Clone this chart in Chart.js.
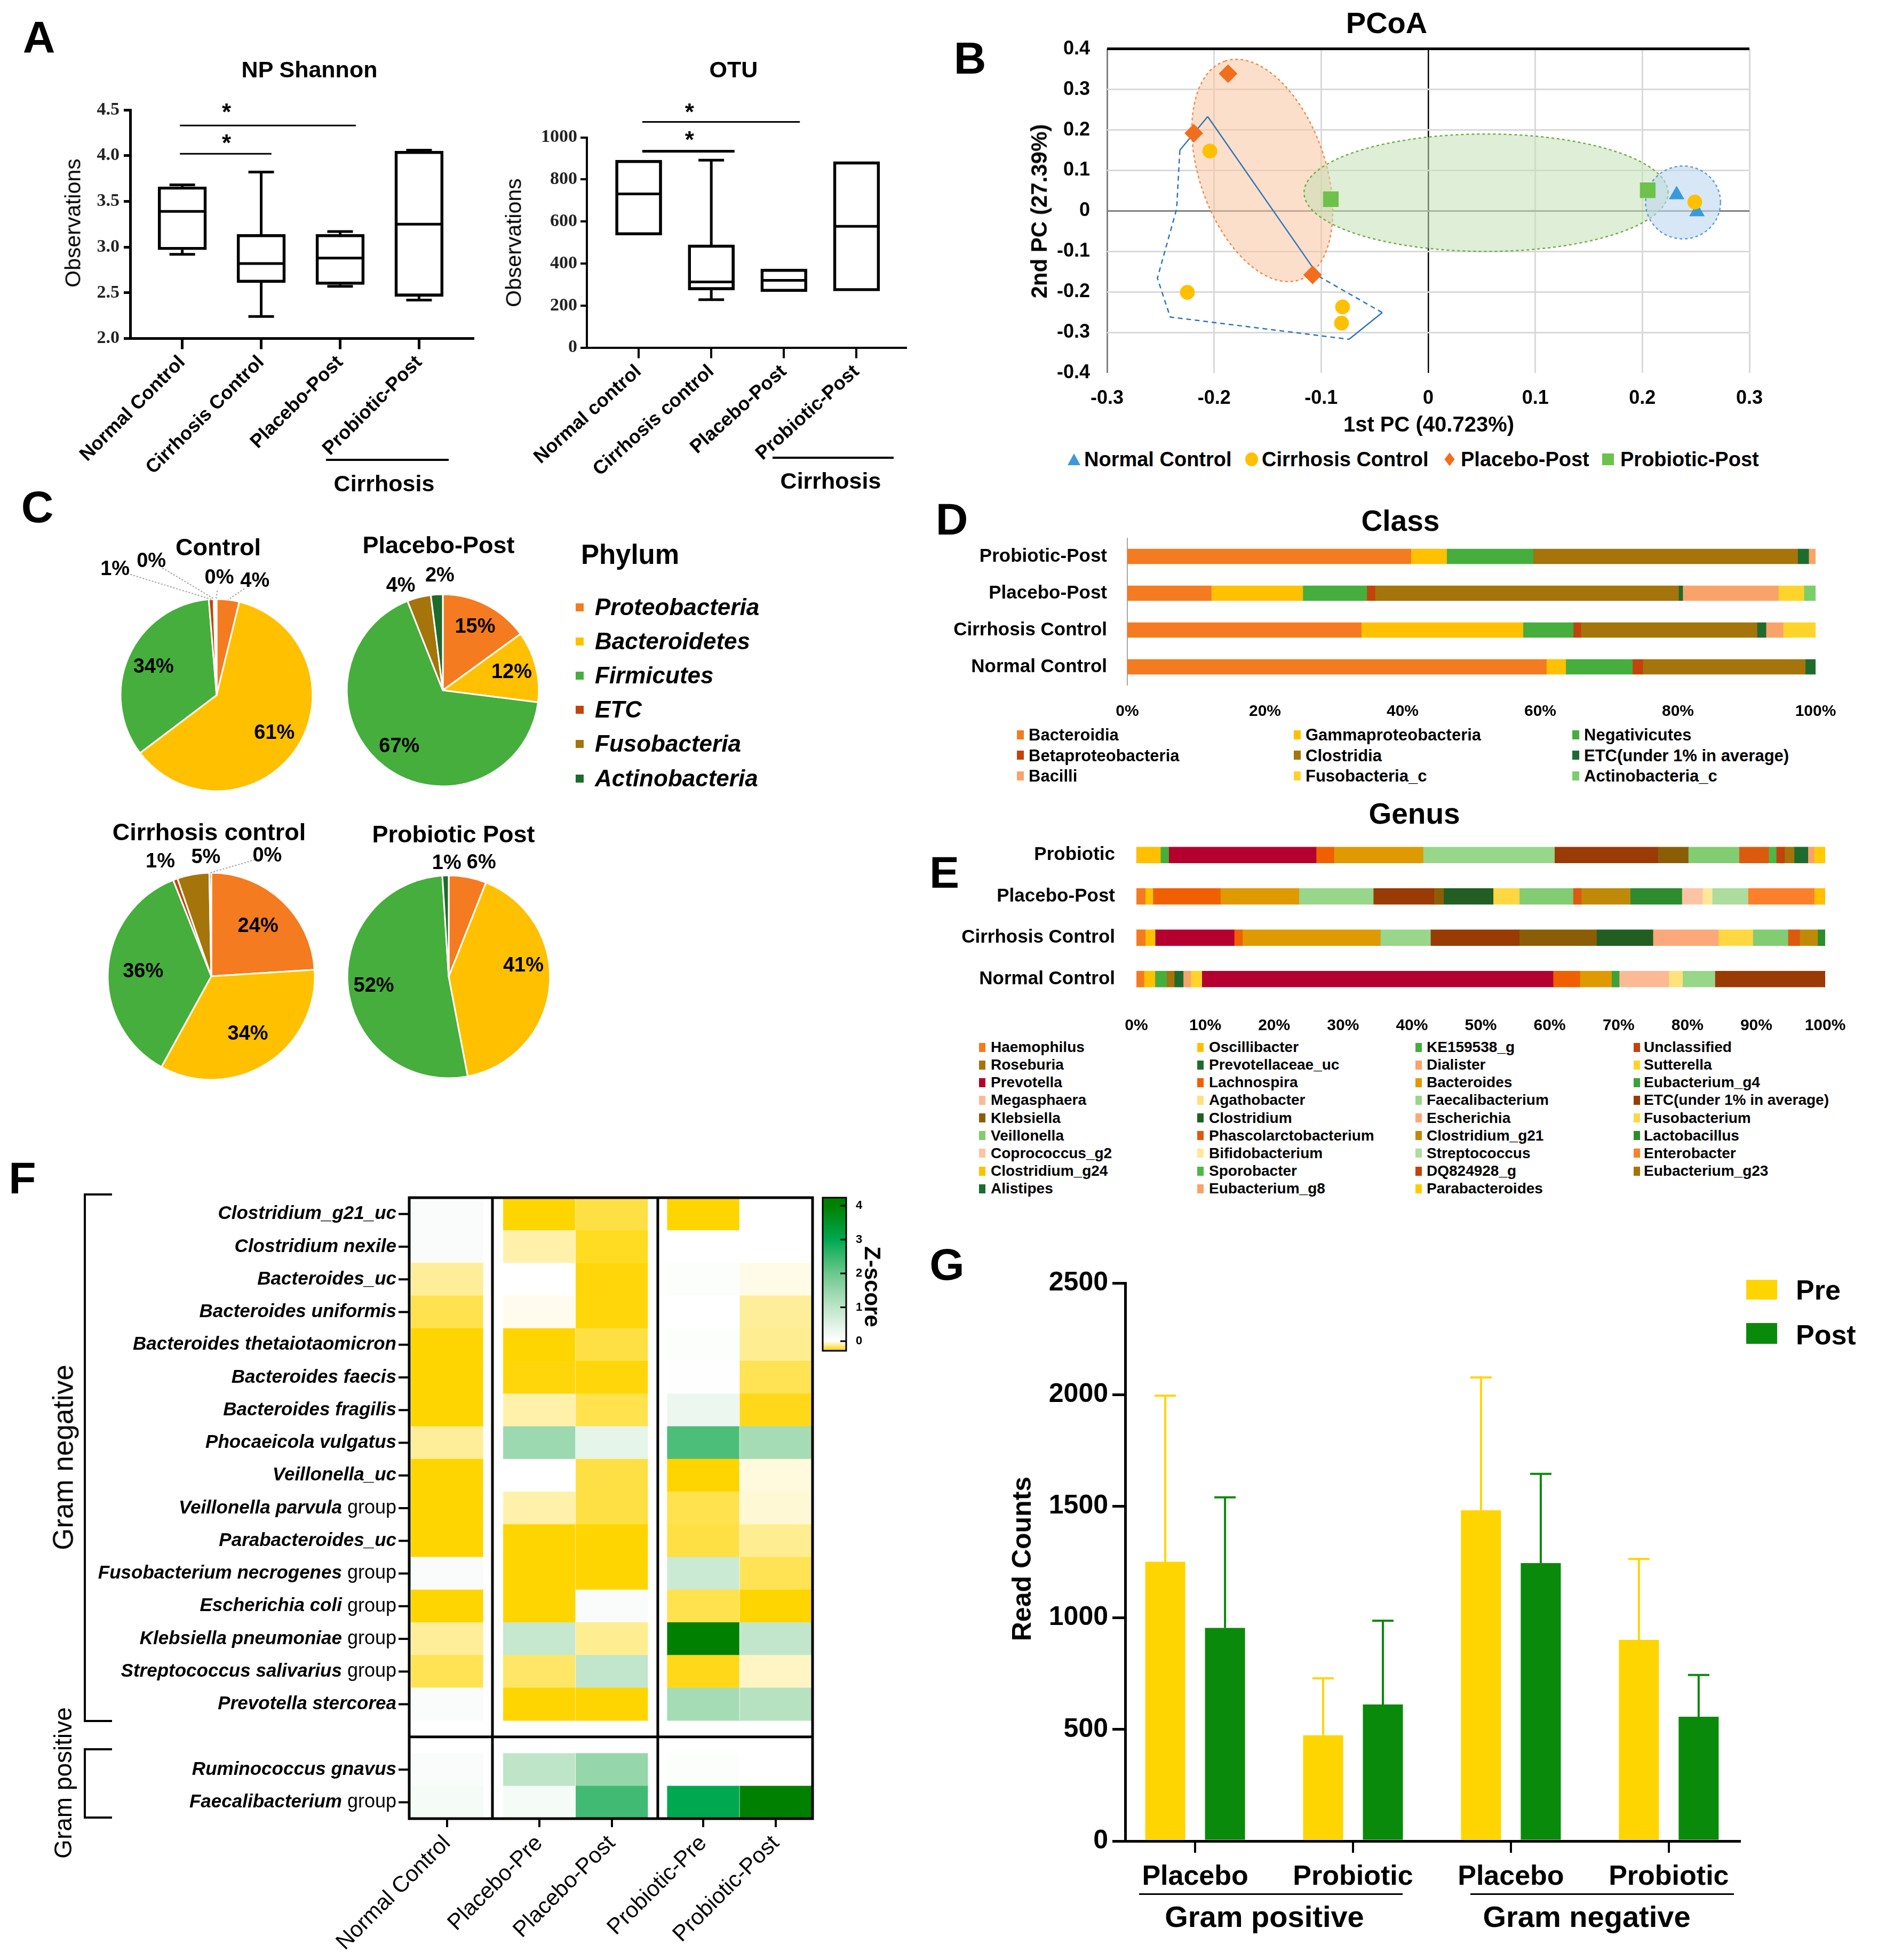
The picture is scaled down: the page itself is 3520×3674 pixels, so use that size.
<!DOCTYPE html>
<html><head><meta charset="utf-8">
<script src="https://cdn.jsdelivr.net/npm/chart.js@4.4.1/dist/chart.umd.min.js"></script>
<style>
html,body{margin:0;padding:0;background:#fff}
body{position:relative;width:3520px;height:3674px;overflow:hidden;font-family:'Liberation Sans',Arial,sans-serif;color:#000}
canvas{position:absolute}
.t{position:absolute;white-space:nowrap;line-height:1}
.sq{position:absolute}
</style></head><body>
<script>
// ================= DATA =================
// A: NP Shannon (box plot)
const shannonCats = ['Normal Control','Cirrhosis Control','Placebo-Post','Probiotic-Post'];
const shannonMin = [2.92, 2.24, 2.57, 2.42];
const shannonQ1  = [2.97, 2.61, 2.59, 2.46];
const shannonMed = [3.39, 2.82, 2.88, 3.25];
const shannonQ3  = [3.66, 3.14, 3.14, 4.05];
const shannonMax = [3.68, 3.82, 3.17, 4.06];
const shannonTicks = [2.0, 2.5, 3.0, 3.5, 4.0, 4.5];
const shannonSig = [{from:-0.03, to:2.2, y:4.33, starX:0.56, starY:4.52, w:3},
                    {from:-0.03, to:1.13, y:4.02, starX:0.56, starY:4.18, w:3}];
// A: OTU (box plot)
const otuCats = ['Normal control','Cirrhosis control','Placebo-Post','Probiotic-Post'];
const otuMin = [535, 228, 266, 269];
const otuQ1  = [535, 274, 266, 269];
const otuMed = [731, 312, 320, 577];
const otuQ3  = [892, 489, 374, 885];
const otuMax = [892, 892, 374, 885];
const otuTicks = [0, 200, 400, 600, 800, 1000];
const otuSig = [{from:0.05, to:2.22, y:1074, starX:0.7, starY:1139, w:3},
                {from:0.05, to:1.32, y:934, starX:0.7, starY:1008, w:5}];

// B: PCoA
const pcoaGroups = ['Normal Control','Cirrhosis Control','Placebo-Post','Probiotic-Post'];
const pcoaNormalX = [0.232, 0.251],  pcoaNormalY = [0.040, -0.002];
const pcoaCirrX = [-0.204, -0.225, -0.080, -0.081, 0.249], pcoaCirrY = [0.148, -0.201, -0.237, -0.277, 0.022];
const pcoaPlacX = [-0.187, -0.219, -0.108], pcoaPlacY = [0.339, 0.192, -0.158];
const pcoaProbX = [-0.091, 0.205], pcoaProbY = [0.029, 0.051];
const hullX = [-0.206, -0.232, -0.235, -0.253, -0.241, -0.074, -0.043, -0.102, -0.206];
const hullY = [0.233, 0.150, 0.005, -0.166, -0.262, -0.317, -0.251, -0.162, 0.233];
const hullSolid = [0, 5, 7];
// ellipses: centre (cx,cy) and two semi-axis vectors (ax,ay),(bx,by) in data units
const pcoaEllipses = [
  {cx:-0.155, cy:0.10, ax:-0.035, ay:0.27, bx:0.0557, by:0.050, fill:'rgba(248,196,160,0.55)', stroke:'#F4894A'},
  {cx:0.054, cy:0.045, ax:0.170, ay:0, bx:0, by:0.145, fill:'rgba(197,224,180,0.55)', stroke:'#70AD47'},
  {cx:0.238, cy:0.021, ax:0.035, ay:0, bx:0, by:0.09, fill:'rgba(189,215,238,0.6)', stroke:'#5B9BD5'}
];

// C: Phylum pies
const phylumNames = ['Proteobacteria','Bacteroidetes','Firmicutes','ETC','Fusobacteria','Actinobacteria'];
const phylumColors = ['#F47B20','#FFC000','#46AE3C','#C3430C','#A5740B','#1E6B2E'];
const pieControl   = [3.8, 60.9, 34.0, 0.8, 0.3, 0.2];
const piePlacebo   = [15, 12, 67, 0, 4, 2];
const pieCirrhosis = [24, 34, 36, 0.7, 5, 0.3];
const pieProbiotic = [6, 41, 52, 0, 0, 1];

// D: Class
const classGroups = ['Probiotic-Post','Placebo-Post','Cirrhosis Control','Normal Control'];
const classNames = ['Bacteroidia','Gammaproteobacteria','Negativicutes','Betaproteobacteria','Clostridia','ETC(under 1% in average)','Bacilli','Fusobacteria_c','Actinobacteria_c'];
const classColors = ['#F47B20','#FFC000','#46AE3C','#C3430C','#A5740B','#1E6B2E','#F9A36A','#FFD42A','#7ACF6A'];
const classProbiotic = [41.2, 5.2, 12.6, 0, 38.4, 1.6, 1.0, 0, 0];
const classPlacebo   = [12.2, 13.3, 9.3, 1.2, 44.1, 0.6, 13.9, 3.7, 1.7];
const classCirrhosis = [34.0, 23.5, 7.3, 1.1, 25.6, 1.3, 2.5, 4.7, 0];
const classNormal    = [60.9, 2.8, 9.7, 1.5, 23.6, 1.5, 0, 0, 0];

// E: Genus
const genusGroups = ['Probiotic','Placebo-Post','Cirrhosis Control','Normal Control'];
const genusNames = ['Haemophilus','Oscillibacter','KE159538_g','Unclassified','Roseburia','Prevotellaceae_uc','Dialister','Sutterella',
  'Prevotella','Lachnospira','Bacteroides','Eubacterium_g4','Megasphaera','Agathobacter','Faecalibacterium','ETC(under 1% in average)',
  'Klebsiella','Clostridium','Escherichia','Fusobacterium','Veillonella','Phascolarctobacterium','Clostridium_g21','Lactobacillus',
  'Coprococcus_g2','Bifidobacterium','Streptococcus','Enterobacter','Clostridium_g24','Sporobacter','DQ824928_g','Eubacterium_g23',
  'Alistipes','Eubacterium_g8','Parabacteroides'];
const genusColors = ['#F47B20','#FFC000','#46AE3C','#C3430C','#A5740B','#1E6B2E','#F9A36A','#FFD42A',
  '#B5002F','#F06000','#DE9A00','#3CA13A','#FBBA94','#FFE27A','#98D68A','#9A3A05',
  '#8B5E06','#225E22','#FBA87A','#FFD740','#82CC72','#DC5A0E','#C08A08','#2E8B2E',
  '#FCC4A4','#FFE899','#ADDC9F','#FF7F2A','#FFC000','#4CB848','#C3430C','#A5740B',
  '#1E6B2E','#F9A36A','#FFCC00'];
const genusProbiotic = [0,3.5,1.2,0,0,0,0,0, 21.4,2.6,12.9,0,0,0,19.1,15.0, 4.4,0,0,0,7.4,4.3,0,0, 0,0,0,0,0,1.1,1.2,1.4, 2.0,0.9,1.6];
const genusPlacebo   = [1.3,1.1,0,0,0,0,0,0, 0,9.8,11.4,0,0,0,10.8,8.8, 1.4,7.2,0,3.8,7.8,1.2,7.1,7.5, 3.0,1.4,5.2,9.6,1.6,0,0,0, 0,0,0];
const genusCirrhosis = [1.3,1.4,0,0,0,0,0,0, 11.5,1.2,20.0,0,0,0,7.3,12.9, 11.2,8.2,9.5,5.0,5.1,1.7,2.6,1.1, 0,0,0,0,0,0,0,0, 0,0,0];
const genusNormal    = [1.1,1.6,1.7,0,1.1,1.3,1.1,1.6, 51.0,3.9,4.6,1.1,7.2,2.0,4.7,16.0, 0,0,0,0,0,0,0,0, 0,0,0,0,0,0,0,0, 0,0,0];

// F: heatmap (z-scores)
const heatRows = ['Clostridium_g21_uc','Clostridium nexile','Bacteroides_uc','Bacteroides uniformis','Bacteroides thetaiotaomicron',
  'Bacteroides faecis','Bacteroides fragilis','Phocaeicola vulgatus','Veillonella_uc','Veillonella parvula group','Parabacteroides_uc',
  'Fusobacterium necrogenes group','Escherichia coli group','Klebsiella pneumoniae group','Streptococcus salivarius group',
  'Prevotella stercorea','Ruminococcus gnavus','Faecalibacterium group'];
const heatGramNegCount = 16;
const heatCols = ['Normal Control','Placebo-Pre','Placebo-Post','Probiotic-Pre','Probiotic-Post'];
const heatNormal       = [0.1,0.1,-0.12,-0.21,-0.3,-0.3,-0.3,-0.12,-0.3,-0.3,-0.3,0.1,-0.3,-0.12,-0.2,0.1, 0.1,0.15];
const heatPlaceboPre   = [-0.3,-0.1,0,-0.02,-0.3,-0.29,-0.1,1.4,0,-0.1,-0.3,-0.3,-0.3,0.9,-0.18,-0.3, 1.0,0.15];
const heatPlaceboPost  = [-0.22,-0.26,-0.29,-0.29,-0.22,-0.29,-0.21,0.4,-0.22,-0.22,-0.3,-0.3,0.1,-0.13,0.95,-0.3, 1.5,2.4];
const heatProbioticPre = [-0.3,0,0.05,0,0.05,0.02,0.3,2.3,-0.3,-0.21,-0.22,0.8,-0.21,4.0,-0.27,1.3, 0.05,3.0];
const heatProbioticPost= [0,0,-0.03,-0.12,-0.13,-0.2,-0.27,1.3,-0.04,-0.05,-0.13,-0.2,-0.3,0.95,-0.07,1.1, 0,4.0];
const heatColX = [0, 1.27, 2.27, 3.53, 4.53];
const heatSeparators = [0.625, 2.904];
const zTicks = [0,1,2,3,4];

// G: read counts
const gGroups = ['Placebo','Probiotic','Placebo','Probiotic'];
const gPre = [1251, 474, 1482, 901];
const gPreSD = [744, 255, 595, 363];
const gPost = [955, 612, 1245, 557];
const gPostSD = [585, 375, 400, 187];
const gColors = ['#FFD500','#0A8A0A'];

// ================= HELPERS =================
Chart.defaults.font.family = "'Liberation Sans', Arial, sans-serif";
Chart.defaults.color = '#000';
Chart.defaults.animation = false;
Chart.defaults.responsive = false;
Chart.defaults.devicePixelRatio = 1;
Chart.defaults.plugins.legend.display = false;
Chart.defaults.plugins.tooltip.enabled = false;
Chart.defaults.events = [];

function mk(x,y,w,h){const c=document.createElement('canvas');c.width=w;c.height=h;
  Object.assign(c.style,{left:x+'px',top:y+'px',width:w+'px',height:h+'px'});document.body.appendChild(c);return c;}
function T(x,y,s,font,rot,align){const d=document.createElement('div');d.className='t';d.textContent=s;d.style.font=font;d.style.lineHeight='1';
  d.style.left=x+'px';d.style.top=y+'px';const tr=align==='left'?'translate(0,-50%)':'translate(-50%,-50%)';
  d.style.transform=tr+(rot?` rotate(${rot}deg)`:'');document.body.appendChild(d);return d;}
function R(x,y,w,h,color,extra){const d=document.createElement('div');d.className='sq';
  Object.assign(d.style,{left:x+'px',top:y+'px',width:w+'px',height:h+'px',background:color});if(extra)Object.assign(d.style,extra);
  document.body.appendChild(d);return d;}
const fixY = w => s => { s.width = w; s.paddingTop = 0; s.paddingBottom = 0; };
const fixX = h => s => { s.height = h; s.paddingLeft = 0; s.paddingRight = 0; };
const F = (w,sz,fam) => `${w} ${sz}px ${fam||"'Liberation Sans', Arial, sans-serif"}`;
function line(ctx,x1,y1,x2,y2){ctx.beginPath();ctx.moveTo(x1,y1);ctx.lineTo(x2,y2);ctx.stroke();}

// ================= PANEL A =================
function boxPlugin(st, sig, lw, cap){
  return {id:'boxplot', afterDatasetsDraw(chart){
    const ctx=chart.ctx, x=chart.scales.x, y=chart.scales.y, meta=chart.getDatasetMeta(0);
    ctx.save(); ctx.strokeStyle='#000'; ctx.lineWidth=lw; ctx.lineCap='butt';
    st.med.forEach((m,i)=>{
      const el=meta.data[i], cx=el.x, hw=el.width/2-lw/2;
      const pm=y.getPixelForValue(m); line(ctx,cx-hw,pm,cx+hw,pm);
      const top=y.getPixelForValue(st.q3[i]), bot=y.getPixelForValue(st.q1[i]);
      if(st.max[i]>st.q3[i]){const p=y.getPixelForValue(st.max[i]); line(ctx,cx,top,cx,p); line(ctx,cx-cap/2,p,cx+cap/2,p);}
      if(st.min[i]<st.q1[i]){const p=y.getPixelForValue(st.min[i]); line(ctx,cx,bot,cx,p); line(ctx,cx-cap/2,p,cx+cap/2,p);}
    });
    sig.forEach(s=>{ctx.lineWidth=s.w; const p=y.getPixelForValue(s.y);
      line(ctx,x.getPixelForValue(s.from),p,x.getPixelForValue(s.to),p);
      ctx.fillStyle='#000'; ctx.font=F('bold',44); ctx.textAlign='center'; ctx.textBaseline='middle';
      ctx.fillText('*', x.getPixelForValue(s.starX), y.getPixelForValue(s.starY)+10);});
    ctx.restore();
  }};
}
function boxChart(canvas, cats, st, ticks, sig, o){
  new Chart(canvas,{type:'bar',
    data:{datasets:[{data:st.q1.map((q,i)=>({x:i,y:[q,st.q3[i]]})),backgroundColor:'rgba(0,0,0,0)',borderColor:'#000',
      borderWidth:5,borderSkipped:false,barThickness:o.bw}]},
    options:{layout:{padding:{left:0,top:o.top,right:o.right,bottom:0}},
      scales:{
        x:{type:'linear',min:o.xmin,max:o.xmax,offset:false,afterBuildTicks:s=>{s.ticks=cats.map((_,i)=>({value:i}));},afterFit:fixX(o.xh),
          ticks:{autoSkip:false,minRotation:o.rot,maxRotation:o.rot,padding:4,font:{size:36,weight:'bold'},callback:(v,i)=>cats[i]},
          grid:{display:true,drawOnChartArea:false,drawTicks:true,tickLength:20,color:'#000',lineWidth:o.axw,offset:false},
          border:{display:true,color:'#000',width:o.axw}},
        y:{min:ticks[0],max:ticks[ticks.length-1],afterBuildTicks:s=>{s.ticks=ticks.map(v=>({value:v}));},afterFit:fixY(o.yw),
          ticks:{padding:o.tp,font:{family:"'Liberation Serif', 'Times New Roman', serif",size:34,weight:'bold'},color:'#222',callback:o.fmt},
          grid:{drawOnChartArea:false,tickLength:12,color:'#000',lineWidth:o.axw},
          border:{color:'#000',width:o.axw}}
      }},
    plugins:[boxPlugin(st,sig,5,48)]});
}
boxChart(mk(0,150,960,760), shannonCats,
  {min:shannonMin,q1:shannonQ1,med:shannonMed,q3:shannonQ3,max:shannonMax}, shannonTicks, shannonSig,
  {bw:91,top:56,right:74,xmin:-0.66,xmax:3.68,xh:275.5,yw:244,rot:45,axw:5,tp:8,fmt:v=>v.toFixed(1)});
boxChart(mk(960,150,790,760), otuCats,
  {min:otuMin,q1:otuQ1,med:otuMed,q3:otuQ3,max:otuMax}, otuTicks, otuSig,
  {bw:87,top:107.6,right:52,xmin:-0.713,xmax:3.68,xh:258.5,yw:140,rot:42,axw:4,tp:6,fmt:v=>String(v)});
T(73,70,'A',F('bold',84));
T(580,130,'NP Shannon',F('bold',43));
T(137,418,'Observations',F('normal',41),-90);
R(611,860,230,4,'#000'); T(720,906,'Cirrhosis',F('bold',43));
T(1375,130,'OTU',F('bold',43));
T(963,455,'Observations',F('normal',41),-90);
R(1448,856,227,4,'#000'); T(1557,901,'Cirrhosis',F('bold',43));

// ================= PANEL B =================
const xy=(X,Y)=>X.map((v,i)=>({x:v,y:Y[i]}));
const ellipsePlugin={id:'ell',beforeDatasetsDraw(chart){
  const ctx=chart.ctx, x=chart.scales.x, y=chart.scales.y;
  pcoaEllipses.forEach(e=>{
    const cx=x.getPixelForValue(e.cx), cy=y.getPixelForValue(e.cy);
    const ax=x.getPixelForValue(e.cx+e.ax)-cx, ay=y.getPixelForValue(e.cy+e.ay)-cy;
    const bx=x.getPixelForValue(e.cx+e.bx)-cx, by=y.getPixelForValue(e.cy+e.by)-cy;
    ctx.save(); ctx.beginPath();
    for(let k=0;k<=180;k++){const t=k/180*2*Math.PI; const px=cx+ax*Math.cos(t)+bx*Math.sin(t), py=cy+ay*Math.cos(t)+by*Math.sin(t);
      if(k===0)ctx.moveTo(px,py);else ctx.lineTo(px,py);}
    ctx.closePath(); ctx.fillStyle=e.fill; ctx.fill();
    ctx.setLineDash([5,5]); ctx.lineWidth=2.5; ctx.strokeStyle=e.stroke; ctx.stroke(); ctx.restore();
  });
}};
const isV=(a,b)=>Math.abs(a-b)<1e-6;
new Chart(mk(1960,40,1400,740),{type:'scatter',
  data:{datasets:[
    {label:pcoaGroups[1],data:xy(pcoaCirrX,pcoaCirrY),pointStyle:'circle',pointRadius:13.5,backgroundColor:'#FFC000',borderColor:'#FFC000'},
    {label:pcoaGroups[2],data:xy(pcoaPlacX,pcoaPlacY),pointStyle:'rectRot',pointRadius:17,backgroundColor:'#F26E1D',borderColor:'#F26E1D'},
    {label:pcoaGroups[3],data:xy(pcoaProbX,pcoaProbY),pointStyle:'rect',pointRadius:20,backgroundColor:'#6CC24A',borderColor:'#6CC24A'},
    {label:pcoaGroups[0],data:xy(pcoaNormalX,pcoaNormalY),pointStyle:'triangle',pointRadius:16,backgroundColor:'#3A9AD9',borderColor:'#3A9AD9'},
    {type:'line',label:'hull',data:xy(hullX,hullY),showLine:true,pointRadius:0,borderColor:'#2E75B6',borderWidth:2.5,fill:false,tension:0,
      segment:{borderDash:c=>hullSolid.includes(c.p0DataIndex)?undefined:[9,7]}}
  ]},
  options:{layout:{padding:{left:0,top:51.8,right:81,bottom:0}},
    scales:{
      x:{type:'linear',min:-0.3,max:0.3,afterFit:fixX(81),
        ticks:{stepSize:0.1,padding:26,font:{size:36,weight:'bold'},callback:v=>isV(v,0)?'0':v.toFixed(1)},
        grid:{drawTicks:false,color:c=>isV(c.tick.value,0)?'#000':(isV(c.tick.value,-0.3)?'#808080':'#D9D9D9'),lineWidth:c=>isV(c.tick.value,0)?2.5:3},
        border:{display:false}},
      y:{min:-0.4,max:0.4,afterFit:fixY(115),
        ticks:{stepSize:0.1,padding:32,font:{size:36,weight:'bold'},callback:v=>isV(v,0)?'0':v.toFixed(1)},
        grid:{drawTicks:false,color:c=>isV(c.tick.value,0.4)?'#000':isV(c.tick.value,0)?'#808080':isV(c.tick.value,-0.4)?'rgba(0,0,0,0)':'#D9D9D9',
          lineWidth:c=>isV(c.tick.value,0.4)?5:3},
        border:{display:false}}
    }},
  plugins:[ellipsePlugin]});
T(1818,109,'B',F('bold',84));
T(2599,43,'PCoA',F('bold',56));
T(1948,396,'2nd PC (27.39%)',F('bold',42),-90);
T(2678,795,'1st PC (40.723%)',F('bold',40));
R(2001,850,0,0,'transparent',{borderLeft:'12px solid transparent',borderRight:'12px solid transparent',borderBottom:'22px solid #3A9AD9'});
T(2032,861,pcoaGroups[0],F('bold',38),0,'left');
R(2334,848,24,26,'#FFC000',{borderRadius:'50%'});
T(2365,861,pcoaGroups[1],F('bold',38),0,'left');
R(2708,852,18,18,'#F26E1D',{transform:'scaleX(0.75) rotate(45deg)'});
T(2738,861,pcoaGroups[2],F('bold',38),0,'left');
R(3003,850,22,22,'#6CC24A');
T(3037,861,pcoaGroups[3],F('bold',38),0,'left');

// ================= PANEL C =================
function piePlugin(place, inner){
  return {id:'pielabels', afterDatasetsDraw(chart){
    const ctx=chart.ctx, meta=chart.getDatasetMeta(0), vals=chart.data.datasets[0].data;
    ctx.save(); ctx.font=F('bold',38); ctx.fillStyle='#000'; ctx.textAlign='center'; ctx.textBaseline='middle';
    meta.data.forEach((arc,i)=>{
      const v=vals[i]; if(!(v>0)) return;
      const p=arc.getProps(['x','y','startAngle','endAngle','outerRadius'],true);
      const mid=(p.startAngle+p.endAngle)/2; let ang=mid, rf=inner; const q=place[i];
      if(q){ang=-Math.PI/2+q[0]*Math.PI/180; rf=q[1];}
      const lx=p.x+Math.cos(ang)*p.outerRadius*rf, ly=p.y+Math.sin(ang)*p.outerRadius*rf;
      if(q&&q[2]){const tx=p.x+Math.cos(mid)*p.outerRadius, ty=p.y+Math.sin(mid)*p.outerRadius;
        const dx=tx-lx, dy=ty-ly, d=Math.hypot(dx,dy);
        ctx.save(); ctx.strokeStyle='#A0A0A0'; ctx.lineWidth=2; ctx.setLineDash([3,3]);
        line(ctx,lx+dx/d*24,ly+dy/d*24,tx,ty); ctx.restore();}
      ctx.fillText(Math.round(v)+'%',lx,ly);
    });
    ctx.restore();
  }};
}
function pie(cx,cy,r,vals,place,inner){
  const size=Math.round(2*r+280);
  new Chart(mk(cx-size/2,cy-size/2,size,size),{type:'pie',
    data:{labels:phylumNames,datasets:[{data:vals,backgroundColor:phylumColors,borderColor:'#fff',borderWidth:3,radius:r}]},
    options:{layout:{padding:0}},plugins:[piePlugin(place,inner)]});
}
pie(406,1303,180,pieControl,[[18.6,1.25,1],null,null,[-39,1.68,1],[-26,1.55,1],[1.3,1.22,1]],0.72);
pie(830,1294,180,piePlacebo,[null,null,null,null,[-22,1.17],[-1.5,1.19]],0.74);
pie(396,1830,194,pieCirrhosis,[null,null,null,[-24,1.21],[-2.6,1.15],[25,1.28,1]],0.66);
pie(841,1831,190,pieProbiotic,[[16,1.17],[81.5,0.745],null,null,null,[-1,1.12]],0.745);
T(70,950,'C',F('bold',84));
T(409,1025,'Control',F('bold',45));
T(822,1021,'Placebo-Post',F('bold',45));
T(392,1559,'Cirrhosis control',F('bold',45));
T(850,1563,'Probiotic Post',F('bold',45));
T(1181,1039,'Phylum',F('bold',51));
[1138,1202,1266,1330,1394,1459].forEach((yc,i)=>{R(1079,yc-7,15,15,phylumColors[i]); T(1115,yc,phylumNames[i],F('italic bold',44),0,'left');});

// ================= PANEL D / E (stacked bars) =================
function stackChart(canvas, groups, names, colors, rows, o){
  new Chart(canvas,{type:'bar',
    data:{labels:groups,datasets:names.map((n,k)=>({label:n,data:rows.map(r=>r[k]),backgroundColor:colors[k],borderWidth:0,barThickness:o.bt}))},
    options:{indexAxis:'y',layout:{padding:{left:0,top:o.top,right:o.right,bottom:0}},
      scales:{
        x:{stacked:true,min:0,max:100,afterFit:fixX(o.xh),ticks:{stepSize:o.step,padding:23,font:{size:30,weight:'bold'},callback:v=>v+'%'},
          grid:{display:false},border:{display:false}},
        y:{stacked:true,afterFit:fixY(o.yw),ticks:{padding:o.lp,font:{size:35,weight:'bold'}},grid:{display:false},
          border:{display:o.border,color:'#A6A6A6',width:2}}
      }}});
}
stackChart(mk(1750,990,1770,380), classGroups, classNames, classColors, [classProbiotic,classPlacebo,classCirrhosis,classNormal],
  {bt:28,top:18.5,right:117,xh:85.5,yw:363,step:20,lp:30,border:true});
stackChart(mk(1750,1540,1770,400), genusGroups, genusNames, genusColors, [genusProbiotic,genusPlacebo,genusCirrhosis,genusNormal],
  {bt:30,top:24,right:99,xh:66,yw:380,step:10,lp:32,border:false});
function legendGrid(names,colors,cols,sqX,txX,row0,step,sw,sh,font){
  names.forEach((n,i)=>{const c=i%cols, r=Math.floor(i/cols), yc=row0+r*step;
    R(sqX[c]-sw/2,yc-sh/2,sw,sh,colors[i]); T(txX[c],yc,n,font,0,'left');});
}
legendGrid(classNames,classColors,3,[1912,2431,2953],[1928,2447,2969],1377,38.5,13,17,F('bold',31));
legendGrid(genusNames,genusColors,4,[1841,2250,2659,3068],[1857,2266,2674,3081],1963,33.15,12,17,F('bold',28));
T(1784,973,'D',F('bold',84));
T(2625,976,'Class',F('bold',55));
T(1770,1635,'E',F('bold',84));
T(2651,1525,'Genus',F('bold',55));

// ================= PANEL F (heatmap) =================
function zColor(v){
  const mix=(a,b,t)=>`rgb(${a.map((c,i)=>Math.round(c+(b[i]-c)*t)).join(',')})`;
  if(v<0) return mix([255,255,255],[255,213,0],Math.min(1,-v/0.3));
  const st=[[255,255,255],[190,229,200],[108,200,140],[0,168,80],[0,128,0]];
  const k=Math.min(3,Math.floor(v)); return mix(st[k],st[k+1],Math.min(1,v-k));
}
const heatLabels=[...heatRows.slice(0,heatGramNegCount),'',...heatRows.slice(heatGramNegCount)];
const heatSeries=[heatNormal,heatPlaceboPre,heatPlaceboPost,heatProbioticPre,heatProbioticPost];
const rowOf=i=>i<heatGramNegCount?i:i-1;
const heatPlugin={id:'heat',afterDatasetsDraw(chart){
  const ctx=chart.ctx, a=chart.chartArea, x=chart.scales.x, y=chart.scales.y;
  ctx.save(); ctx.strokeStyle='#000'; ctx.lineWidth=5;
  ctx.strokeRect(a.left,a.top,a.right-a.left,a.bottom-a.top);
  heatSeparators.forEach(v=>{const px=x.getPixelForValue(v); line(ctx,px,a.top,px,a.bottom);});
  const sp=y.getPixelForValue(heatGramNegCount); line(ctx,a.left,sp,a.right,sp);
  // row labels
  ctx.lineWidth=4; ctx.textAlign='right'; ctx.textBaseline='middle'; ctx.fillStyle='#000';
  heatLabels.forEach((lab,i)=>{ if(!lab) return; const py=y.getPixelForValue(i);
    line(ctx,a.left-20,py,a.left,py);
    let it=lab, rest=''; if(lab.endsWith(' group')){it=lab.slice(0,-6); rest=' group';}
    let xr=a.left-24;
    if(rest){ctx.font=F('normal',36); ctx.fillText(rest,xr,py); xr-=ctx.measureText(rest).width;}
    ctx.font=F('italic bold',35); ctx.fillText(it,xr,py);
  });
  // colour bar
  const L=a.right+19, W=44, top=a.top, H=287, v4=a.top+15, unit=63.5;
  for(let py=0;py<H;py++){const v=4-(top+py+0.5-v4)/unit; ctx.fillStyle=zColor(v<0?v*1.1:v); ctx.fillRect(L,top+py,W,1);}
  ctx.lineWidth=3; ctx.strokeRect(L,top,W,H);
  ctx.font=F('bold',22); ctx.textAlign='center'; ctx.fillStyle='#000';
  zTicks.forEach(k=>{const py=v4+(4-k)*unit; ctx.lineWidth=3; line(ctx,L+W-11,py,L+W,py); ctx.fillText(String(k),L+W+24,py);});
  ctx.restore();
}};
new Chart(mk(0,2150,1700,1524),{type:'bar',
  data:{labels:heatLabels,datasets:heatSeries.map((vals,j)=>({
    data:heatLabels.map(l=>l===''?null:[heatColX[j]-0.495,heatColX[j]+0.495]),
    backgroundColor:heatLabels.map((l,i)=>l===''?'rgba(0,0,0,0)':zColor(vals[rowOf(i)])),
    borderWidth:0,barPercentage:1,categoryPercentage:1,grouped:false}))},
  options:{indexAxis:'y',layout:{padding:{left:0,top:95,right:177,bottom:0}},
    scales:{
      x:{type:'linear',min:-0.522,max:5.037,afterBuildTicks:s=>{s.ticks=heatColX.map(v=>({value:v}));},afterFit:fixX(265),
        ticks:{autoSkip:false,minRotation:45,maxRotation:45,padding:6,font:{size:42,weight:'normal'},callback:(v,i)=>heatCols[i]},
        grid:{drawOnChartArea:false,drawTicks:true,tickLength:16,color:'#000',lineWidth:4},border:{display:false}},
      y:{afterFit:fixY(767),ticks:{display:false},grid:{display:false},border:{display:false}}
    }},
  plugins:[heatPlugin]});
T(42,2208,'F',F('bold',84));
R(157,2239,4,987,'#000'); R(157,2237,53,4,'#000'); R(157,3224,53,4,'#000');
R(157,3279,4,128,'#000'); R(157,3277,53,4,'#000'); R(157,3405,53,4,'#000');
T(118,2732,'Gram negative',F('normal',53),-90);
T(118,3342,'Gram positive',F('normal',46),-90);
T(1635,2412,'Z-score',F('bold',42),90);

// ================= PANEL G =================
const gSD=[gPreSD,gPostSD];
const errPlugin={id:'err',afterDatasetsDraw(chart){
  const ctx=chart.ctx, y=chart.scales.y;
  ctx.save(); ctx.lineWidth=4;
  chart.data.datasets.forEach((ds,d)=>{const meta=chart.getDatasetMeta(d); ctx.strokeStyle=gColors[d];
    meta.data.forEach((el,i)=>{const v=ds.data[i].y, top=y.getPixelForValue(v+gSD[d][i]);
      line(ctx,el.x,el.y,el.x,top); line(ctx,el.x-20,top,el.x+20,top);});});
  ctx.restore();
}};
new Chart(mk(1860,2330,1660,1344),{type:'bar',
  data:{datasets:[
    {label:'Pre',data:gPre.map((v,i)=>({x:i,y:v})),backgroundColor:gColors[0],categoryPercentage:0.757,barPercentage:0.67},
    {label:'Post',data:gPost.map((v,i)=>({x:i,y:v})),backgroundColor:gColors[1],categoryPercentage:0.757,barPercentage:0.67}]},
  options:{layout:{padding:{left:0,top:75,right:259,bottom:0}},
    scales:{
      x:{type:'linear',min:-0.443,max:3.45,offset:false,afterBuildTicks:s=>{s.ticks=gGroups.map((_,i)=>({value:i}));},afterFit:fixX(223),
        ticks:{autoSkip:false,minRotation:0,maxRotation:0,padding:14,font:{size:52,weight:'bold'},callback:(v,i)=>gGroups[i]},
        grid:{drawOnChartArea:false,tickLength:22,color:'#000',lineWidth:4,offset:false},border:{color:'#000',width:5}},
      y:{min:0,max:2500,afterFit:fixY(249),ticks:{stepSize:500,padding:8,font:{size:50,weight:'bold'},callback:v=>String(v)},
        grid:{drawOnChartArea:false,tickLength:24,color:'#000',lineWidth:5},border:{color:'#000',width:5}}
    }},
  plugins:[errPlugin]});
T(1775,2370,'G',F('bold',84));
T(1915,2922,'Read Counts',F('bold',50),-90);
R(3273,2399,58,37,gColors[0]); T(3366,2418,'Pre',F('bold',52),0,'left');
R(3273,2480,58,39,gColors[1]); T(3366,2502,'Post',F('bold',52),0,'left');
R(2135,3549,494,3,'#000'); T(2370,3593,'Gram positive',F('bold',56));
R(2756,3549,494,3,'#000'); T(2974,3593,'Gram negative',F('bold',56));
</script>
</body></html>
